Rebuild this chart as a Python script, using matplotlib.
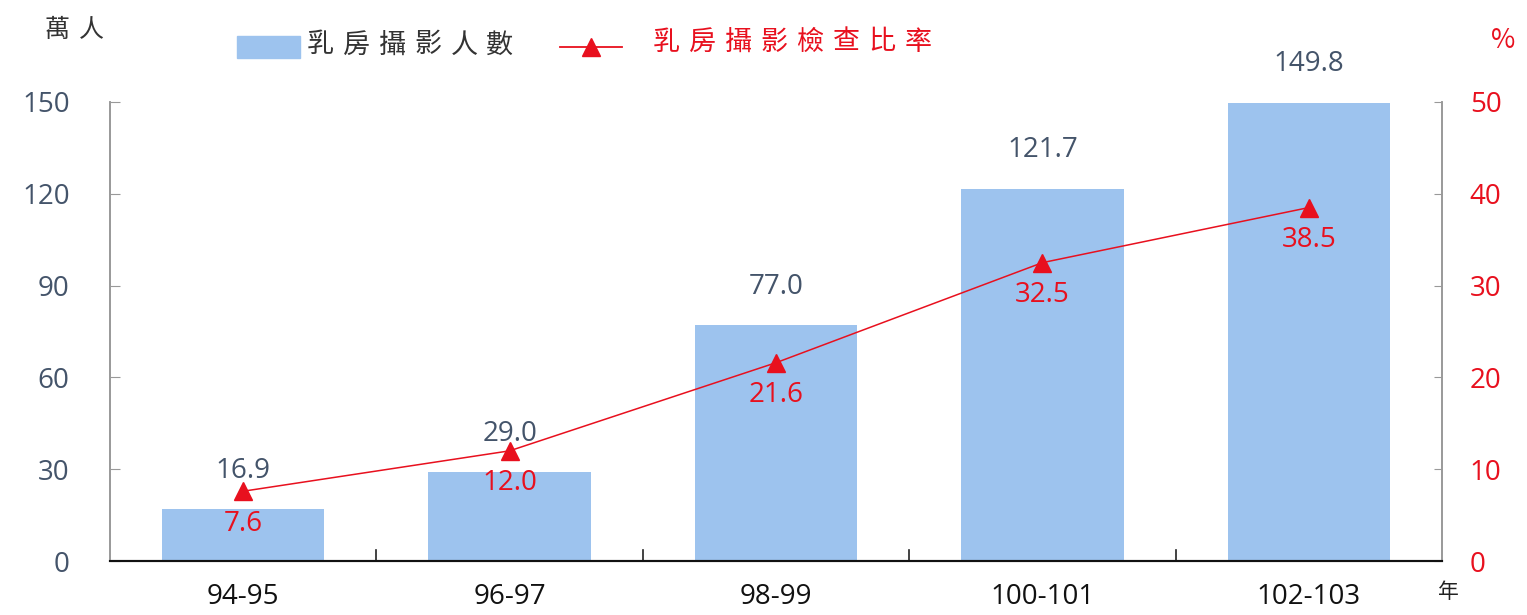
import matplotlib
matplotlib.use("Agg")
import matplotlib.pyplot as plt
from matplotlib.patches import Rectangle
from matplotlib.lines import Line2D

categories = ["94-95", "96-97", "98-99", "100-101", "102-103"]
people = [16.9, 29.0, 77.0, 121.7, 149.8]      # 萬人
rate = [7.6, 12.0, 21.6, 32.5, 38.5]           # %
left_ticks = [0, 30, 60, 90, 120, 150]
right_ticks = [0, 10, 20, 30, 40, 50]

CJK = ["Noto Sans CJK TC", "DejaVu Sans"]
NUM = ["Open Sans", "DejaVu Sans"]
BAR_C = "#9DC3EE"
RED = "#E8101E"
LBL = "#44546A"
FS = 20

W, H = 1527, 615
fig = plt.figure(figsize=(W / 100, H / 100), dpi=100)
ax = fig.add_axes([110 / W, (H - 561) / H, (1442 - 110) / W, (561 - 102) / H])
ax2 = ax.twinx()

x = list(range(len(categories)))
ax.bar(x, people, width=0.61, color=BAR_C, zorder=2)
ax.set_xlim(-0.5, len(categories) - 0.5)
ax.set_ylim(0, 150)
ax.set_yticks(left_ticks)
ax.set_yticklabels([str(t) for t in left_ticks], color=LBL, fontsize=FS, family=NUM)
ax.set_xticks(x)
ax.set_xticklabels(categories, fontsize=FS, family=NUM, color="#111111")
ax.tick_params(axis="x", length=0, pad=16)
ax.tick_params(axis="y", length=7, color="#999999", direction="in", pad=29)
for b in [0.5, 1.5, 2.5, 3.5]:
    ax.plot([b, b], [0, 3.5], color="#222222", lw=1.2, zorder=3, clip_on=False)

for xi, v in zip(x, people):
    ax.text(xi, v + 8.0, f"{v:.1f}", ha="center", va="bottom", color=LBL,
            fontsize=FS, family=NUM)

ax2.plot(x, rate, color=RED, lw=1.1, marker="^", markersize=13, zorder=4)
ax2.set_ylim(0, 50)
ax2.set_yticks(right_ticks)
ax2.set_yticklabels([str(t) for t in right_ticks], color=RED, fontsize=FS, family=NUM)
ax2.tick_params(axis="y", length=6, color="#999999", direction="in", pad=20)
for xi, v in zip(x, rate):
    ax2.text(xi, v - 2.0, f"{v:.1f}", ha="center", va="top", color=RED,
             fontsize=FS, family=NUM)

for a in (ax, ax2):
    a.spines["top"].set_visible(False)
    a.spines["left"].set_color("#999999")
    a.spines["right"].set_color("#999999")
    a.spines["bottom"].set_color("#111111")
    a.spines["bottom"].set_linewidth(1.5)
    a.spines["left"].set_linewidth(1.2)
    a.spines["right"].set_linewidth(1.2)
ax.set_zorder(1)
ax2.set_zorder(2)
ax2.patch.set_visible(False)

def fx(px):
    return px / W

def fy(py):
    return 1 - py / H

def spaced(text, x0, y0, pitch, **kw):
    for i, ch in enumerate(text):
        fig.text(fx(x0 + i * pitch), fy(y0), ch, ha="center", va="center",
                 family=CJK, **kw)

spaced("萬人", 57, 30, 34, fontsize=18, color="#333333")
fig.text(fx(1503), fy(40), "%", family=CJK, fontsize=19, color=RED,
         ha="center", va="center")
fig.text(fx(1448), fy(592), "年", family=CJK, fontsize=15, color="#222222",
         ha="center", va="center")

# legend
fig.add_artist(Rectangle((fx(237), fy(58)), fx(300) - fx(237), fy(36) - fy(58),
                         transform=fig.transFigure, color=BAR_C))
spaced("乳房攝影人數", 320, 45, 36, fontsize=19.5, color="#333333")
fig.add_artist(Line2D([fx(560), fx(622)], [fy(47), fy(47)], color=RED, lw=1.3,
                      transform=fig.transFigure))
fig.add_artist(Line2D([fx(591)], [fy(47)], color=RED, marker="^", markersize=13,
                      linestyle="none", transform=fig.transFigure))
spaced("乳房攝影檢查比率", 666, 42, 36, fontsize=19.5, color=RED)

fig.savefig("out.png", dpi=100)
